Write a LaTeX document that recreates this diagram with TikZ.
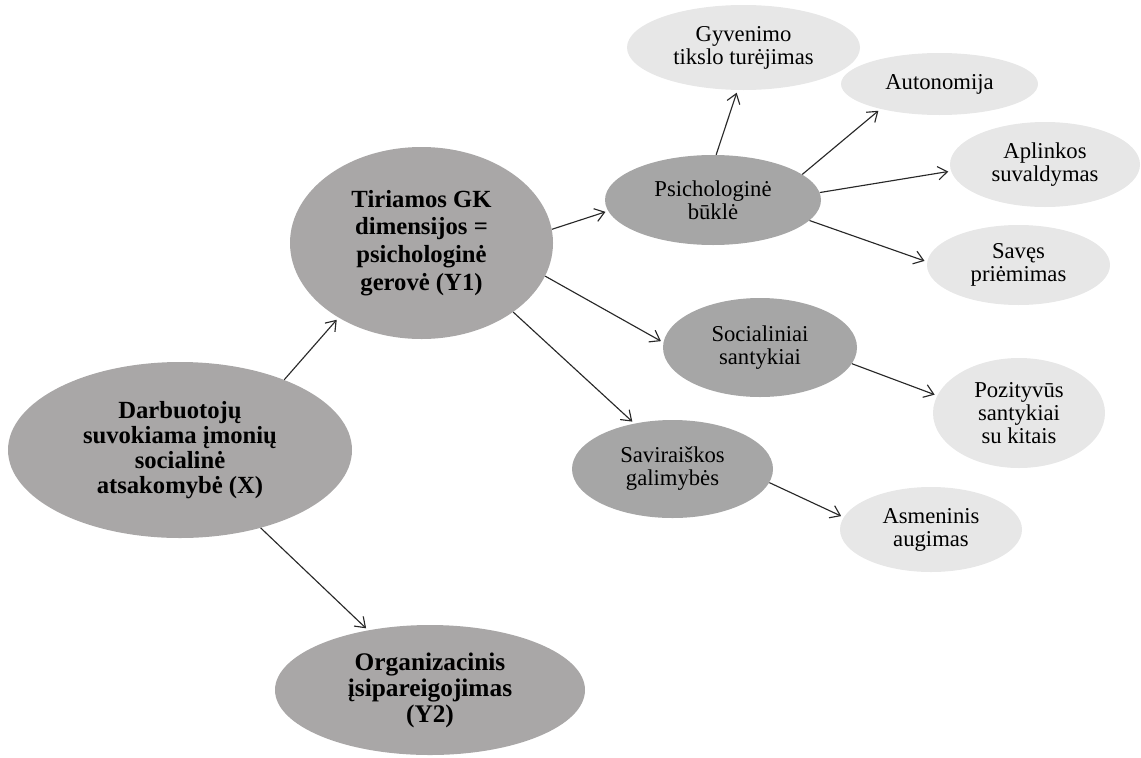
\documentclass[tikz,border=0pt]{standalone}
\usepackage{fontspec}
\setmainfont{Liberation Serif}
\usetikzlibrary{shapes.geometric,arrows.meta}
\definecolor{bigfill}{RGB}{169,167,167}
\definecolor{midfill}{RGB}{166,166,166}
\definecolor{lightfill}{RGB}{231,231,231}
\definecolor{linecol}{RGB}{40,40,40}
\begin{document}
\begin{tikzpicture}[x=0.75pt,y=-0.75pt,
  base/.style={ellipse, inner sep=0pt, align=center, text=black},
  bigell/.style={base, fill=bigfill, font=\fontsize{18.5}{18.75}\selectfont\bfseries},
  midell/.style={base, fill=midfill, font=\fontsize{17}{17.25}\selectfont},
  lightell/.style={base, fill=lightfill, font=\fontsize{17}{17.25}\selectfont},
  conn/.style={draw=linecol, line width=0.85pt, -{Straight Barb[length=7pt,width=10pt]}, shorten >=2pt}
]
\useasboundingbox (0,0) rectangle (1141,757);

% main nodes
\node[bigell, minimum width=258pt, minimum height=132pt] (X) at (180,450)
  {Darbuotojų\\suvokiama įmonių\\socialinė\\atsakomybė (X)};
\node[bigell, font=\fontsize{18.5}{20.8}\selectfont\bfseries, minimum width=197.25pt, minimum height=144pt] (Y1) at (421.5,243)
  {Tiriamos GK\\dimensijos =\\psichologinė\\gerovė (Y1)};
\node[bigell, font=\fontsize{19}{19.5}\selectfont\bfseries, minimum width=232.5pt, minimum height=97.5pt] (Y2) at (430,690)
  {Organizacinis\\įsipareigojimas\\(Y2)};

% middle nodes
\node[midell, minimum width=162pt, minimum height=67.5pt] (PB) at (713,200) {Psichologinė\\būklė};
\node[midell, minimum width=145.5pt, minimum height=74.25pt] (SS) at (760,347.5) {Socialiniai\\santykiai};
\node[midell, minimum width=150.75pt, minimum height=73.5pt] (SG) at (672.5,469) {Saviraiškos\\galimybės};

% light nodes
\node[lightell, minimum width=174.75pt, minimum height=63.75pt] (GT) at (743.5,47.5) {Gyvenimo\\tikslo turėjimas};
\node[lightell, minimum width=147.75pt, minimum height=46.5pt] (AU) at (939.5,84) {Autonomija};
\node[lightell, minimum width=142.5pt, minimum height=63.75pt] (AS) at (1045,164.5) {Aplinkos\\suvaldymas};
\node[lightell, minimum width=137.25pt, minimum height=60pt] (SP) at (1018.5,265) {Savęs\\priėmimas};
\node[lightell, minimum width=129pt, minimum height=82.5pt] (PS) at (1019,413) {Pozityvūs\\santykiai\\su kitais};
\node[lightell, minimum width=136.5pt, minimum height=63.75pt] (AG) at (931,529.5) {Asmeninis\\augimas};

% connectors
\draw[conn] (X.34) -- (Y1.222);
\draw[conn] (X.316) -- (Y2.136);
\draw[conn] (Y1.6) -- (PB.186);
\draw[conn] (Y1.345) -- (SS.177);
\draw[conn] (Y1.323) -- (SG.130);
\draw[conn] (PB.86) -- (GT.262);
\draw[conn] (PB.16) -- (AU.203);
\draw[conn] (PB.4) -- (AS.184);
\draw[conn] (PB.348) -- (SP.178);
\draw[conn] (SS.350) -- (PS.168);
\draw[conn] (SG.352) -- (AG.172);
\end{tikzpicture}
\end{document}
